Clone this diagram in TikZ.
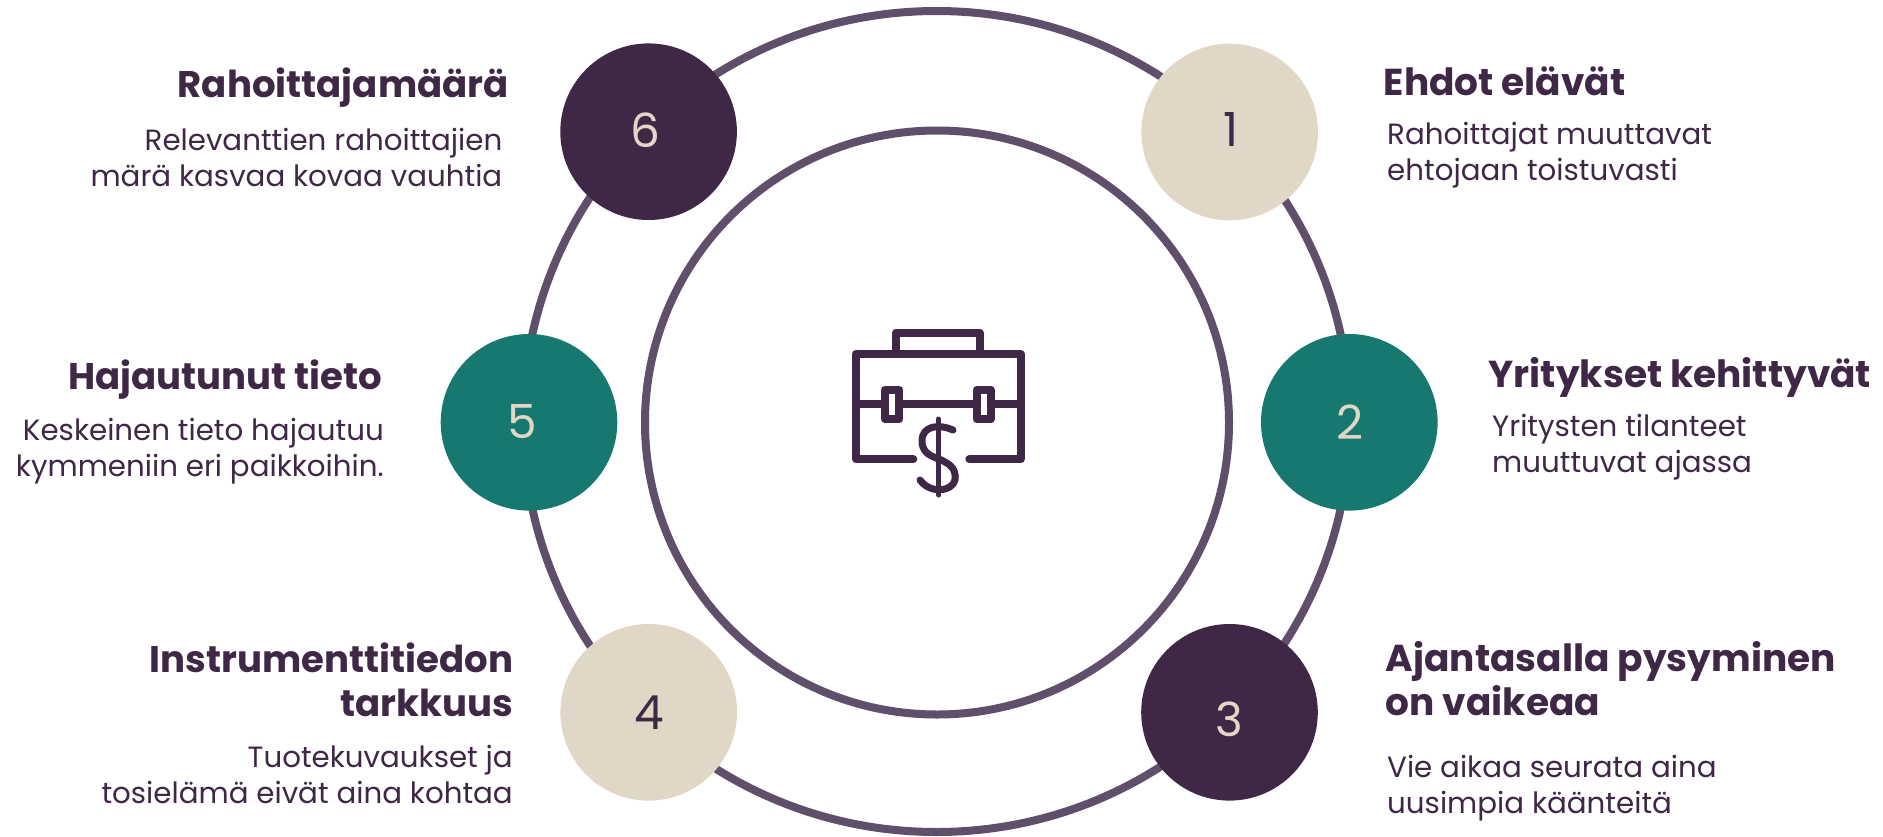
\documentclass[tikz,border=0pt]{standalone}
\usepackage{fontspec}
\usetikzlibrary{shapes.geometric}
\setmainfont{Poppins}
\definecolor{ink}{HTML}{3F2846}
\definecolor{ringc}{HTML}{5F4F6B}
\definecolor{teal}{HTML}{177870}
\definecolor{sand}{HTML}{E0D7C6}
\tikzset{
 ringline/.style={ellipse,draw=ringc,line width=8pt,inner sep=0pt,outer sep=0pt},
 numdot/.style={circle,minimum size=176.6pt,inner sep=0pt,outer sep=0pt},
 dark/.style={numdot,fill=ink},
 green/.style={numdot,fill=teal},
 light/.style={numdot,fill=sand},
 digit/.style={inner sep=0pt,font=\fontsize{47}{47}\selectfont,text=#1},
 titleL/.style={anchor=base west,inner sep=0pt,text=ink,align=left,font=\fontsize{37.5}{44}\selectfont\bfseries},
 titleR/.style={anchor=base east,inner sep=0pt,text=ink,align=right,font=\fontsize{37.1}{44}\selectfont\bfseries},
 bodyL/.style={anchor=base west,inner sep=0pt,text=ink,align=left,font=\fontsize{29.3}{36}\selectfont},
 bodyR/.style={anchor=base east,inner sep=0pt,text=ink,align=right,font=\fontsize{29.3}{36}\selectfont},
 iconline/.style={draw=ink,line width=8pt,line cap=round,line join=round},
 iconthin/.style={draw=ink,line width=7pt,line cap=round,line join=round},
}
\begin{document}
\begin{tikzpicture}[x=1pt,y=-1pt]
\useasboundingbox[fill=white] (0,0) rectangle (1883,836);
\node[ringline,minimum width=827pt,minimum height=821pt] (outer) at (936.5,421.5) {};
\node[ringline,minimum width=584pt,minimum height=584pt] (inner) at (937,422.5) {};
\node[light] (n1) at (1229.7,132) {};
\node[green] (n2) at (1349.3,422.3) {};
\node[dark] (n3) at (1229.5,712.3) {};
\node[light] (n4) at (648.7,712.3) {};
\node[green] (n5) at (529,422.3) {};
\node[dark] (n6) at (648.6,131.7) {};
\node[digit=ink] (d1) at (1231,129.5) {1};
\node[digit=sand] (d2) at (1350,422) {2};
\node[digit=sand] (d3) at (1229.5,719.5) {3};
\node[digit=ink] (d4) at (648.8,713) {4};
\node[digit=sand] (d5) at (522,421.7) {5};
\node[digit=sand] (d6) at (645.5,129.7) {6};
% icon
\draw[iconline] (895.7,354) -- (895.7,332.7) -- (980,332.7) -- (980,354);
\draw[iconline] (913.3,459.3) -- (856,459.3) -- (856,354) -- (1020.7,354) -- (1020.7,459.3) -- (969.3,459.3);
\draw[iconline] (856,404.3) -- (885,404.3) (899.3,404.3) -- (976.7,404.3) (991,404.3) -- (1020.7,404.3);
\draw[iconline] (885,389.7) rectangle (899.3,419.3);
\draw[iconline] (976.7,389.7) rectangle (991,419.3);
\draw[iconthin,line width=5pt] (938.7,419) -- (938.7,495);
\draw[iconthin] (953,430) .. controls (940,424) and (922,425) .. (922,441)
  .. controls (922,457) and (938,457) .. (945,462)
  .. controls (955,467) and (956,475) .. (955,480)
  .. controls (952,492) and (930,494) .. (920,480);
% text
\node[titleL] (t1) at (1383.5,95) {Ehdot elävät};
\node[bodyL] (b1) at (1387,180) {Rahoittajat muuttavat\\ehtojaan toistuvasti};
\node[titleL] (t2) at (1488.5,387) {Yritykset kehittyvät};
\node[bodyL] (b2) at (1492,472) {Yritysten tilanteet\\muuttuvat ajassa};
\node[titleL] (t3) at (1385.5,715.6) {Ajantasalla pysyminen\\on vaikeaa};
\node[bodyL] (b3) at (1387,813) {Vie aikaa seurata aina\\uusimpia käänteitä};
\node[titleR] (t4) at (513.5,716) {Instrumenttitiedon\\tarkkuus};
\node[bodyR] (b4) at (513,803) {Tuotekuvaukset ja\\tosielämä eivät aina kohtaa};
\node[titleR] (t5) at (382.5,389) {Hajautunut tieto};
\node[bodyR] (b5) at (384,476) {Keskeinen tieto hajautuu\\kymmeniin eri paikkoihin.};
\node[titleR] (t6) at (509,97) {Rahoittajamäärä};
\node[bodyR] (b6) at (502.5,186) {Relevanttien rahoittajien\\märä kasvaa kovaa vauhtia};
\end{tikzpicture}
\end{document}
